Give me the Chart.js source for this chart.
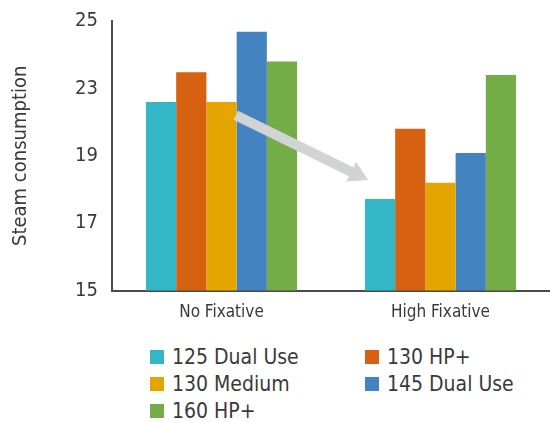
<!DOCTYPE html>
<html>
<head>
<meta charset="utf-8">
<script src="https://cdn.jsdelivr.net/npm/chart.js@4"></script>
<style>
  html, body { margin: 0; padding: 0; background: #fff; }
  #wrap { position: relative; width: 550px; height: 423px; overflow: hidden; }
  #chartBox { position: absolute; left: 0; top: -5px; width: 550px; height: 345px; }
  #legend {
    position: absolute; left: 150px; top: 344px;
    display: grid; grid-template-columns: 215px 180px; row-gap: 2px;
    font-family: "Liberation Sans Narrow", "DejaVu Sans Condensed", sans-serif;
    font-size: 21px; color: #3a3a3a;
  }
  .item { display: flex; align-items: center; height: 25px; }
  .swatch { width: 14px; height: 14px; margin-right: 8px; }
</style>
</head>
<body>
<div id="wrap">
  <div id="chartBox"><canvas id="myChart" width="550" height="345"></canvas></div>
  <div id="legend"></div>
</div>
<script>
const categories = ['No Fixative', 'High Fixative'];
const seriesNames = ['125 Dual Use', '130 HP+', '130 Medium', '145 Dual Use', '160 HP+'];
const seriesColors = ['#33b7c6', '#d66211', '#e5a500', '#4283c0', '#74ac48'];
const dualUse125 = [22.0, 18.4];
const hpPlus130 = [23.1, 21.0];
const medium130 = [22.0, 19.0];
const dualUse145 = [24.6, 20.1];
const hpPlus160 = [23.5, 23.0];
const yTickLabels = ['15', '17', '19', '23', '25'];

// arrow from the first group down to the second, in category / value units
const arrowFrom = [0.065, 21.5];
const arrowTo = [0.67, 19.1];

const font = '"Liberation Sans Narrow", "DejaVu Sans Condensed", sans-serif';
const seriesValues = [dualUse125, hpPlus130, medium130, dualUse145, hpPlus160];

const arrowPlugin = {
    id: 'arrow',
    afterDatasetsDraw(chart) {
        const x = chart.scales.x, y = chart.scales.y, ctx = chart.ctx;
        const x1 = x.getPixelForValue(arrowFrom[0]), y1 = y.getPixelForValue(arrowFrom[1]);
        const x2 = x.getPixelForValue(arrowTo[0]), y2 = y.getPixelForValue(arrowTo[1]);
        const ang = Math.atan2(y2 - y1, x2 - x1);
        const headLen = 19, headW = 11, shaft = 5;
        const bx = x2 - headLen * Math.cos(ang), by = y2 - headLen * Math.sin(ang);
        const nx = -Math.sin(ang), ny = Math.cos(ang);
        ctx.save();
        ctx.fillStyle = '#d1d3d5';
        ctx.beginPath();
        ctx.moveTo(x1 + nx * shaft, y1 + ny * shaft);
        ctx.lineTo(bx + nx * shaft, by + ny * shaft);
        ctx.lineTo(bx + nx * headW, by + ny * headW);
        ctx.lineTo(x2, y2);
        ctx.lineTo(bx - nx * headW, by - ny * headW);
        ctx.lineTo(bx - nx * shaft, by - ny * shaft);
        ctx.lineTo(x1 - nx * shaft, y1 - ny * shaft);
        ctx.closePath();
        ctx.fill();
        ctx.restore();
    }
};

const chart = new Chart(document.getElementById('myChart').getContext('2d'), {
    type: 'bar',
    data: {
        labels: categories,
        datasets: seriesNames.map((name, i) => ({
            label: name,
            data: seriesValues[i],
            backgroundColor: seriesColors[i],
            borderWidth: 0,
            categoryPercentage: 0.69,
            barPercentage: 1.0
        }))
    },
    options: {
        responsive: false,
        animation: false,
        layout: { padding: { top: 5, right: 0, bottom: 5, left: 0 } },
        plugins: { legend: { display: false }, tooltip: { enabled: false } },
        scales: {
            x: {
                grid: { display: false, drawTicks: false },
                border: { display: true, color: '#4a4a4a', width: 2 },
                ticks: { color: '#3a3a3a', font: { family: font, size: 17 }, padding: 12 }
            },
            y: {
                min: 15, max: 25,
                grid: { display: false, drawTicks: false },
                border: { display: true, color: '#4a4a4a', width: 2 },
                ticks: {
                    stepSize: 2.5,
                    color: '#3a3a3a',
                    font: { family: font, size: 20 },
                    padding: 14,
                    callback: (v, i) => yTickLabels[i]
                },
                title: {
                    display: true, text: 'Steam consumption',
                    color: '#3a3a3a', font: { family: font, size: 20 }, padding: { top: 9, bottom: 11 }
                },
                afterFit(scale) { scale.width = 112; }
            }
        }
    },
    plugins: [arrowPlugin]
});

// legend in two columns
const legend = document.getElementById('legend');
seriesNames.forEach((name, i) => {
    const item = document.createElement('div');
    item.className = 'item';
    item.innerHTML = `<span class="swatch" style="background:${seriesColors[i]}"></span><span>${name}</span>`;
    legend.appendChild(item);
});
</script>
</body>
</html>
